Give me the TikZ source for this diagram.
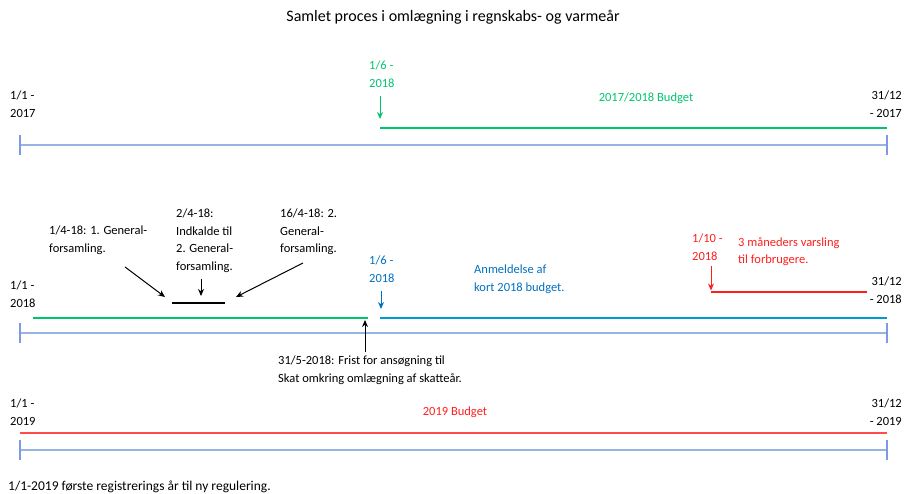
\documentclass[tikz,border=0pt]{standalone}
\usepackage{fontspec}
\setmainfont{Carlito}
\usetikzlibrary{arrows.meta,positioning}
\definecolor{tlgreen}{RGB}{0,196,110}
\definecolor{tlblue}{RGB}{0,112,192}
\definecolor{tlred}{RGB}{255,30,30}
\definecolor{axisblue}{RGB}{150,180,225}
\tikzset{
  tlaxis/.style={draw=axisblue, line width=1.2pt},
  tltick/.style={draw=axisblue!85!blue, line width=1.6pt},
  tlbar/.style={line width=2.4pt},
  tltxt/.style={anchor=north west, align=left, inner sep=0pt,
                font=\fontsize{12.5}{17.5}\selectfont},
  tlend/.style={tltxt, anchor=north east, align=right},
  tlarr/.style={-{Stealth[length=7pt,width=6pt]}, line width=1pt}
}

\begin{document}
\begin{tikzpicture}[x=1pt, y=-1pt]
  \useasboundingbox (0,0) rectangle (906,494);
  \node[font=\fontsize{16}{18}\selectfont] (title) at (453,17)
    {Samlet proces i omlægning i regnskabs- og varmeår};

  % 2017
  \coordinate (a1s) at (20,145);
  \coordinate (a1e) at (887,145);
  \draw[tlaxis] (a1s) -- (a1e);
  \draw[tltick] ([yshift=10pt]a1s) -- ([yshift=-10pt]a1s);
  \draw[tltick] ([yshift=10pt]a1e) -- ([yshift=-10pt]a1e);
  \node[tltxt] (d17s) at (10,91) {1/1 -\\2017};
  \node[tlend] (d17e) at (902,91) {31/12\\- 2017};
  \node[tltxt, text=tlgreen] (g17) at (369,61) {1/6 -\\2018};
  \coordinate (b17s) at (380,128);
  \coordinate (b17e) at (887,128);
  \coordinate (g17a) at (380,96);
  \draw[tlbar, tlgreen] (b17s) -- (b17e);
  \draw[tlarr, tlgreen] (g17a) -- ([yshift=9pt]b17s);
  \node[text=tlgreen, font=\fontsize{12.5}{14}\selectfont] (bud17) at (646,98) {2017/2018 Budget};

  % 2018
  \coordinate (a2s) at (20,333);
  \coordinate (a2e) at (887,333);
  \draw[tlaxis] (a2s) -- (a2e);
  \draw[tltick] ([yshift=10pt]a2s) -- ([yshift=-10pt]a2s);
  \draw[tltick] ([yshift=10pt]a2e) -- ([yshift=-10pt]a2e);
  \node[tltxt] (d18s) at (10,281) {1/1 -\\2018};
  \node[tlend] (d18e) at (902,277) {31/12\\- 2018};
  \coordinate (g18s) at (33,318);
  \coordinate (g18e) at (368,318);
  \draw[tlbar, tlgreen] (g18s) -- (g18e);
  \coordinate (b18s) at (380,318);
  \coordinate (b18e) at (887,318);
  \draw[tlbar, tlblue!70!cyan] (b18s) -- (b18e);

  \coordinate (gfs) at (172,303);
  \coordinate (gfe) at (225,303);
  \draw[line width=1.3pt] (gfs) -- (gfe);
  \node[tltxt] (gf1) at (49,226) {1/4-18: 1. General-\\forsamling.};
  \node[tltxt] (gf2) at (176,209) {2/4-18:\\Indkalde til\\2. General-\\forsamling.};
  \node[tltxt] (gf3) at (280,209) {16/4-18: 2.\\General-\\forsamling.};
  \coordinate (gf1a) at (125,267);
  \coordinate (gf2a) at (201,279);
  \coordinate (gf3a) at (303,263);
  \draw[tlarr] (gf1a) -- ([xshift=-7pt, yshift=6pt]gfs);
  \draw[tlarr] (gf2a) -- ([xshift=29pt, yshift=7pt]gfs);
  \draw[tlarr] (gf3a) -- ([xshift=11pt, yshift=6pt]gfe);

  \node[tltxt, text=tlblue] (bl18) at (369,256) {1/6 -\\2018};
  \coordinate (bl18a) at (381,291);
  \draw[tlarr, tlblue] (bl18a) -- ([xshift=1pt, yshift=9pt]b18s);
  \node[tltxt, text=tlblue] (anm) at (474,265) {Anmeldelse af\\kort 2018 budget.};

  \node[tltxt, text=tlred] (r18) at (692,234) {1/10 -\\2018};
  \node[tltxt, text=tlred] (varsl) at (738,237) {3 måneders varsling\\til forbrugere.};
  \coordinate (r18s) at (711,292);
  \coordinate (r18e) at (867,292);
  \coordinate (r18a) at (711,266);
  \draw[line width=1.2pt, tlred] (r18s) -- (r18e);
  \draw[tlarr, tlred] (r18a) -- ([yshift=1.5pt]r18s);

  \node[tltxt] (frist) at (278,356) {31/5-2018: Frist for ansøgning til\\Skat omkring omlægning af skatteår.};
  \coordinate (frista) at (365,352);
  \draw[tlarr] (frista) -- ([xshift=-3pt, yshift=-2pt]g18e);

  % 2019
  \coordinate (a3s) at (20,450);
  \coordinate (a3e) at (887,450);
  \draw[tlaxis] (a3s) -- (a3e);
  \draw[tltick] ([yshift=10pt]a3s) -- ([yshift=-10pt]a3s);
  \draw[tltick] ([yshift=10pt]a3e) -- ([yshift=-10pt]a3e);
  \node[tltxt] (d19s) at (10,399) {1/1 -\\2019};
  \node[tlend] (d19e) at (902,399) {31/12\\- 2019};
  \coordinate (r19s) at (20,433);
  \coordinate (r19e) at (887,433);
  \draw[tlbar, tlred!80!white] (r19s) -- (r19e);
  \node[text=tlred, font=\fontsize{12.5}{14}\selectfont] (bud19) at (455,412) {2019 Budget};

  \node[tltxt, font=\fontsize{13.5}{16}\selectfont] (foot) at (8,481) {1/1-2019 første registrerings år til ny regulering.};
\end{tikzpicture}
\end{document}
